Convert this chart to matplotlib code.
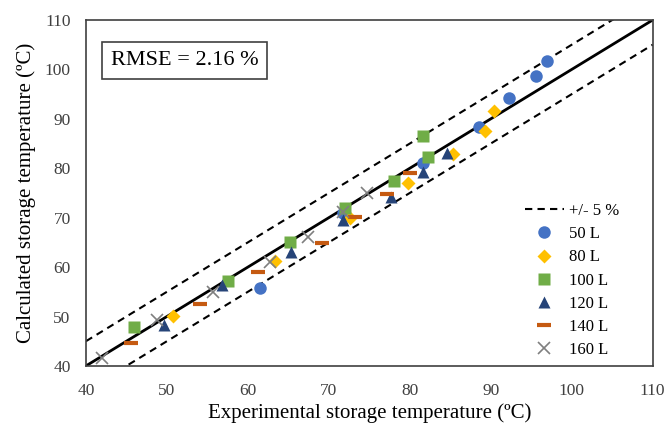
import numpy as np
import matplotlib
matplotlib.use("Agg")
import matplotlib.pyplot as plt

plt.rcParams['font.family'] = ['Liberation Serif', 'DejaVu Serif']

# experimental (x) vs calculated (y) storage temperature, per tank volume
x_50 = [61.5, 71.7, 81.6, 88.6, 92.2, 95.6, 96.9]
y_50 = [55.7, 71.0, 81.1, 88.3, 94.2, 98.7, 101.7]

x_80 = [50.7, 63.3, 72.6, 79.8, 85.3, 89.3, 90.4]
y_80 = [50.1, 61.2, 69.9, 77.0, 82.9, 87.5, 91.6]

x_100 = [45.9, 57.5, 65.2, 72.0, 78.1, 82.2, 81.6]
y_100 = [47.9, 57.2, 65.1, 72.0, 77.4, 82.3, 86.5]

x_120 = [49.6, 56.8, 65.3, 71.7, 77.7, 81.6, 84.6]
y_120 = [48.3, 56.4, 63.0, 69.5, 74.2, 79.2, 83.1]

x_140 = [45.6, 54.1, 61.2, 69.1, 73.2, 77.2, 80.0]
y_140 = [44.6, 52.5, 59.0, 64.9, 70.1, 74.8, 79.0]

x_160 = [42.0, 48.8, 55.7, 62.7, 67.4, 71.7, 74.7]
y_160 = [41.6, 49.3, 55.0, 61.0, 66.1, 71.1, 75.0]

rmse_label = "RMSE = 2.16 %"
band = 5

fig = plt.figure(figsize=(6.66, 4.26), dpi=100)
ax = fig.add_axes([0.129, 0.141, 0.851, 0.812])

ref = np.array([40, 110])
ax.plot(ref, ref, color='black', lw=2, zorder=2)
ax.plot(ref, ref + band, color='black', lw=1.5, ls=(0, (3.5, 2.5)), zorder=2, label='+/- 5 %')
ax.plot(ref, ref - band, color='black', lw=1.5, ls=(0, (3.5, 2.5)), zorder=2)

ax.plot(x_50, y_50, 'o', color='#4472C4', ms=9, mec='none', label='50 L', zorder=3)
ax.plot(x_80, y_80, 'D', color='#FFC000', ms=7.5, mec='none', label='80 L', zorder=3)
ax.plot(x_100, y_100, 's', color='#70AD47', ms=9, mec='none', label='100 L', zorder=3)
ax.plot(x_120, y_120, '^', color='#264478', ms=9, mec='none', label='120 L', zorder=3)
ax.plot(x_140, y_140, '_', color='#C55A11', ms=10, mew=3, label='140 L', zorder=3)
ax.plot(x_160, y_160, 'x', color='#7F7F7F', ms=8, mew=1.2, label='160 L', zorder=3)

ax.set_xlim(40, 110)
ax.set_ylim(40, 110)
ax.set_xticks(range(40, 111, 10))
ax.set_yticks(range(40, 111, 10))
ax.tick_params(length=0, labelsize=12.5, colors='#404040')
ax.tick_params(axis='x', pad=12)
ax.tick_params(axis='y', pad=11)
for s in ax.spines.values():
    s.set_color('#404040')
    s.set_linewidth(1.2)

ax.set_xlabel('Experimental storage temperature (ºC)', fontsize=15, labelpad=3)
ax.set_ylabel('Calculated storage temperature (ºC)', fontsize=15, labelpad=6)

ax.text(0.044, 0.883, rmse_label, transform=ax.transAxes, fontsize=16,
        va='center', ha='left',
        bbox=dict(boxstyle='square,pad=0.4', fc='white', ec='#404040', lw=1.2))

ax.legend(loc='lower right', bbox_to_anchor=(0.958, -0.006), frameon=False,
          fontsize=12, labelspacing=0.43, handlelength=2.3, handletextpad=0.3,
          borderaxespad=0.2)

fig.savefig('out.png', dpi=100)
